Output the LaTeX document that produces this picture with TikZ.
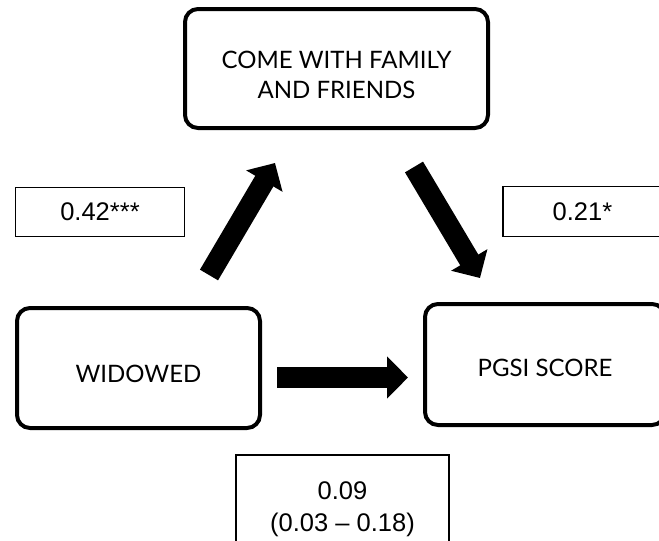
\documentclass[tikz,border=0pt]{standalone}
\usepackage{fontspec}
\setmainfont{Liberation Sans}
\newfontfamily\boxfont{Lato}
\usetikzlibrary{arrows.meta}
\begin{document}
\begin{tikzpicture}[x=1pt,y=-1pt,
  bigbox/.style={draw=black,line width=4pt,rounded corners=13pt,
    inner sep=0pt,font=\boxfont\fontsize{24}{30}\selectfont},
  coefbox/.style={draw=black,line width=1.2pt,inner sep=0pt,
    font=\fontsize{25.5}{32}\selectfont},
  blockarrow/.style={line width=21pt,-{Triangle[length=21pt,width=41pt]}}]
\useasboundingbox (0,0) rectangle (659,541);
\node[bigbox,minimum width=303pt,minimum height=119pt,text height=20pt,text depth=20pt] (top) at (336.5,68.5)
  {\begin{tabular}[t]{@{}c@{}}COME WITH FAMILY\\AND FRIENDS\end{tabular}};
\node[bigbox,minimum width=243pt,minimum height=120pt,text height=28pt,text depth=0pt] (wid) at (138.5,368) {WIDOWED};
\node[bigbox,minimum width=240pt,minimum height=121pt,text height=24.4pt,text depth=0pt] (pgsi) at (545,364.5) {PGSI SCORE};
\node[coefbox,minimum width=169pt,minimum height=49pt] (ca) at (100,212) {0.42***};
\node[coefbox,minimum width=159pt,minimum height=50pt] (cb) at (582.5,211.5) {0.21*};
\node[coefbox,minimum width=213pt,minimum height=102pt,text height=10pt,text depth=24pt] (cc) at (342.5,506)
  {\begin{tabular}[t]{@{}c@{}}0.09\\(0.03 -- 0.18)\end{tabular}};
\coordinate (a1s) at (209,275);
\coordinate (a1e) at (275,163);
\coordinate (a2s) at (414,167);
\coordinate (a2e) at (480,278);
\coordinate (a3s) at (277,377.5);
\coordinate (a3e) at (408,377.5);
\draw[blockarrow] (a1s) -- (a1e);
\draw[blockarrow] (a2s) -- (a2e);
\draw[blockarrow] (a3s) -- (a3e);
\end{tikzpicture}
\end{document}
